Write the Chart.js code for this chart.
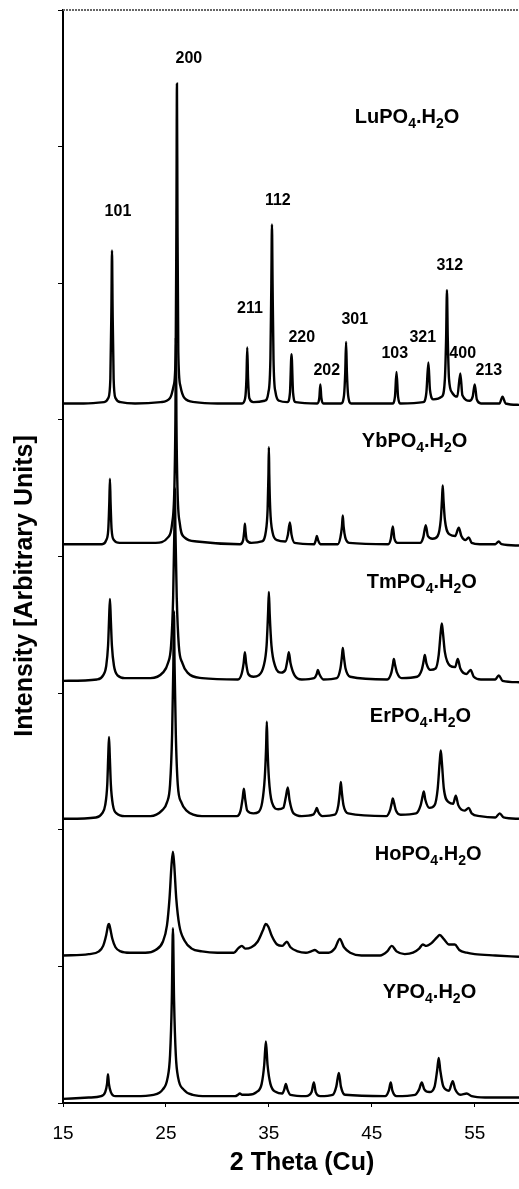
<!DOCTYPE html>
<html lang="en">
  <head>
    <meta charset="UTF-8" />
    <title>XRD patterns of REPO4.H2O</title>
    <script src="https://cdn.jsdelivr.net/npm/chart.js"></script>
    <style>
      body { margin: 0; background: #fff; }
      #wrap { width: 519px; height: 1189px; position: relative; }
    </style>
  </head>
  <body>
    <div id="wrap"><canvas id="xrdChart"></canvas></div>
    <script>
      // axis ticks
      const xTicks = [15, 25, 35, 45, 55];
      const yTicks = [0, 1, 2, 3, 4, 5, 6, 7, 8];

      // sample names, top to bottom, and where each name sits (2 theta, stacked intensity)
      const seriesNames = ["LuPO₄.H₂O", "YbPO₄.H₂O", "TmPO₄.H₂O", "ErPO₄.H₂O", "HoPO₄.H₂O", "YPO₄.H₂O"];
      const nameX = [43.35, 44.03, 44.51, 44.81, 45.29, 46.07];
      const nameY = [7.17, 4.8, 3.77, 2.79, 1.78, 0.77];

      // reflection indices marked on the top pattern
      const hklText = ["101", "200", "211", "112", "220", "202", "301", "103", "321", "312", "400", "213"];
      const hklX = [20.34, 27.23, 33.16, 35.87, 38.2, 40.63, 43.35, 47.23, 49.95, 52.57, 53.83, 56.36];
      const hklY = [6.49, 7.61, 5.78, 6.57, 5.57, 5.33, 5.7, 5.45, 5.57, 6.1, 5.45, 5.33];

      // patterns: [2 theta, intensity incl. stacking offset]
      const lu = [[15,5.12],[17,5.12],[19.0,5.13],[19.4,5.16],[19.6,5.3],[19.7,5.8],[19.76,6.24],[19.82,5.8],[19.92,5.3],[20.1,5.16],[20.6,5.13],[22,5.12],[24.5,5.13],[25.4,5.16],[25.75,5.25],[25.95,5.5],[26.02,6.5],[26.07,7.46],[26.12,6.5],[26.2,5.5],[26.4,5.25],[26.8,5.16],[27.8,5.13],[30,5.12],[32.4,5.12],[32.7,5.16],[32.82,5.3],[32.9,5.53],[32.98,5.3],[33.1,5.16],[33.5,5.13],[34.6,5.14],[34.95,5.2],[35.15,5.45],[35.24,6.0],[35.3,6.43],[35.36,6.0],[35.45,5.45],[35.65,5.2],[36.0,5.14],[36.8,5.13],[37.05,5.2],[37.2,5.48],[37.35,5.2],[37.6,5.13],[39.7,5.12],[39.9,5.16],[40.0,5.26],[40.1,5.16],[40.3,5.12],[42.0,5.12],[42.3,5.18],[42.42,5.35],[42.5,5.57],[42.58,5.35],[42.7,5.18],[43.0,5.12],[47.0,5.12],[47.25,5.17],[47.4,5.35],[47.55,5.17],[47.8,5.12],[50.0,5.13],[50.3,5.2],[50.5,5.42],[50.65,5.22],[51.0,5.15],[51.8,5.17],[52.1,5.3],[52.22,5.6],[52.3,5.95],[52.38,5.6],[52.5,5.3],[52.8,5.2],[53.3,5.17],[53.6,5.34],[53.8,5.18],[54.5,5.14],[54.8,5.17],[55.0,5.26],[55.2,5.15],[55.6,5.12],[57.4,5.12],[57.7,5.17],[58.0,5.12],[59.3,5.11]];
      const yb = [[15,4.09],[18.8,4.09],[19.2,4.12],[19.4,4.2],[19.5,4.4],[19.56,4.57],[19.62,4.4],[19.72,4.2],[19.95,4.12],[20.5,4.1],[24.0,4.1],[25.2,4.14],[25.6,4.24],[25.82,4.5],[25.92,5.0],[25.97,5.6],[26.02,5.0],[26.12,4.5],[26.35,4.24],[26.8,4.14],[28,4.11],[32.2,4.09],[32.5,4.12],[32.6,4.18],[32.67,4.24],[32.74,4.18],[32.85,4.12],[33.3,4.1],[34.3,4.11],[34.7,4.18],[34.88,4.35],[34.96,4.6],[35.0,4.8],[35.04,4.6],[35.13,4.35],[35.35,4.18],[35.8,4.12],[36.6,4.11],[36.85,4.16],[37.04,4.25],[37.2,4.16],[37.5,4.1],[39.4,4.09],[39.56,4.12],[39.66,4.15],[39.78,4.12],[40.0,4.09],[41.7,4.09],[41.95,4.14],[42.1,4.22],[42.18,4.3],[42.26,4.22],[42.42,4.14],[42.8,4.1],[46.6,4.09],[46.85,4.13],[47.04,4.22],[47.2,4.13],[47.5,4.1],[49.7,4.1],[50.0,4.14],[50.24,4.23],[50.45,4.15],[50.9,4.13],[51.4,4.15],[51.7,4.27],[51.82,4.42],[51.89,4.52],[51.96,4.42],[52.1,4.27],[52.6,4.16],[53.1,4.15],[53.45,4.21],[53.7,4.15],[54.1,4.12],[54.42,4.14],[54.7,4.1],[55.5,4.09],[57.0,4.09],[57.33,4.11],[57.6,4.09],[59.3,4.08]];
      const tm = [[15,3.09],[18.3,3.1],[18.9,3.13],[19.2,3.2],[19.38,3.35],[19.48,3.55],[19.56,3.69],[19.64,3.55],[19.75,3.35],[19.95,3.2],[20.3,3.13],[21.0,3.11],[23.5,3.11],[24.7,3.15],[25.2,3.22],[25.5,3.35],[25.7,3.7],[25.82,4.2],[25.87,4.5],[25.92,4.2],[26.05,3.7],[26.25,3.35],[26.6,3.22],[27.1,3.15],[28.5,3.11],[32.0,3.1],[32.35,3.14],[32.55,3.22],[32.67,3.3],[32.79,3.22],[33.0,3.14],[33.5,3.12],[34.0,3.13],[34.5,3.2],[34.78,3.35],[34.92,3.58],[35.0,3.74],[35.08,3.58],[35.25,3.35],[35.6,3.2],[36.2,3.15],[36.6,3.17],[36.8,3.24],[36.94,3.3],[37.1,3.22],[37.5,3.13],[38.2,3.1],[39.4,3.11],[39.65,3.14],[39.76,3.17],[39.9,3.14],[40.3,3.1],[41.6,3.11],[41.95,3.18],[42.1,3.27],[42.18,3.33],[42.28,3.27],[42.45,3.18],[42.9,3.12],[46.5,3.1],[46.9,3.15],[47.05,3.21],[47.14,3.25],[47.25,3.21],[47.45,3.15],[47.9,3.11],[49.4,3.12],[49.85,3.17],[50.05,3.24],[50.15,3.28],[50.3,3.22],[50.7,3.17],[51.2,3.18],[51.5,3.28],[51.7,3.45],[51.8,3.51],[51.9,3.45],[52.1,3.3],[52.6,3.2],[53.1,3.19],[53.35,3.25],[53.6,3.18],[54.2,3.14],[54.6,3.17],[54.9,3.12],[55.6,3.1],[57.0,3.1],[57.33,3.13],[57.7,3.09],[59.3,3.08]];
      const er = [[15,2.08],[18.2,2.09],[18.8,2.12],[19.1,2.18],[19.3,2.33],[19.4,2.55],[19.47,2.68],[19.54,2.55],[19.65,2.33],[19.85,2.18],[20.2,2.12],[21,2.1],[23.5,2.1],[24.6,2.14],[25.1,2.2],[25.4,2.33],[25.6,2.7],[25.72,3.2],[25.78,3.6],[25.84,3.2],[25.96,2.7],[26.15,2.33],[26.5,2.2],[27.0,2.14],[28.5,2.1],[31.9,2.1],[32.25,2.14],[32.45,2.23],[32.57,2.3],[32.69,2.23],[32.9,2.14],[33.5,2.12],[34.0,2.13],[34.35,2.2],[34.6,2.38],[34.73,2.6],[34.8,2.79],[34.87,2.6],[35.0,2.38],[35.3,2.2],[35.9,2.15],[36.4,2.16],[36.65,2.24],[36.84,2.31],[37.0,2.22],[37.4,2.12],[38.2,2.1],[39.3,2.11],[39.55,2.14],[39.66,2.16],[39.8,2.13],[40.2,2.1],[41.4,2.11],[41.75,2.18],[41.9,2.28],[41.99,2.35],[42.08,2.28],[42.25,2.18],[42.7,2.12],[46.4,2.1],[46.8,2.15],[46.95,2.2],[47.04,2.23],[47.15,2.2],[47.35,2.14],[47.8,2.11],[49.3,2.12],[49.75,2.18],[49.95,2.25],[50.05,2.28],[50.2,2.22],[50.6,2.16],[51.1,2.18],[51.4,2.3],[51.6,2.5],[51.7,2.58],[51.8,2.5],[52.0,2.3],[52.5,2.2],[52.9,2.19],[53.16,2.25],[53.4,2.18],[54.0,2.14],[54.42,2.16],[54.7,2.12],[55.5,2.1],[57.0,2.09],[57.43,2.12],[57.8,2.09],[59.3,2.08]];
      const ho = [[15,1.08],[17.5,1.09],[18.5,1.11],[18.9,1.15],[19.2,1.23],[19.38,1.3],[19.47,1.31],[19.58,1.28],[19.8,1.2],[20.1,1.14],[20.6,1.11],[21.5,1.1],[23.0,1.1],[24.0,1.12],[24.7,1.18],[25.1,1.3],[25.35,1.5],[25.55,1.75],[25.68,1.84],[25.8,1.75],[26.0,1.5],[26.3,1.3],[26.8,1.19],[27.5,1.13],[28.5,1.11],[30,1.1],[31.6,1.1],[32.0,1.13],[32.38,1.15],[32.7,1.13],[33.3,1.14],[33.9,1.18],[34.4,1.26],[34.7,1.31],[34.95,1.29],[35.3,1.22],[35.8,1.16],[36.3,1.15],[36.75,1.18],[37.1,1.14],[37.8,1.11],[38.6,1.1],[39.1,1.11],[39.47,1.12],[39.9,1.1],[40.8,1.1],[41.4,1.13],[41.89,1.2],[42.3,1.14],[42.9,1.1],[44,1.08],[45.8,1.08],[46.5,1.11],[46.94,1.15],[47.4,1.11],[48.2,1.09],[49.0,1.1],[49.6,1.13],[49.95,1.16],[50.3,1.15],[50.8,1.17],[51.3,1.21],[51.6,1.23],[52.0,1.2],[52.5,1.16],[53.06,1.16],[53.5,1.12],[54.22,1.1],[55.0,1.09],[57,1.08],[59.3,1.07]];
      const yp = [[15,0.03],[17.5,0.04],[18.7,0.05],[19.1,0.08],[19.28,0.14],[19.37,0.21],[19.46,0.14],[19.65,0.08],[20.1,0.05],[22,0.05],[23.8,0.06],[24.7,0.1],[25.15,0.18],[25.4,0.35],[25.57,0.75],[25.68,1.28],[25.79,0.75],[25.96,0.35],[26.2,0.18],[26.7,0.1],[27.6,0.06],[29,0.05],[31.7,0.05],[32.0,0.06],[32.18,0.07],[32.4,0.06],[33.0,0.06],[33.8,0.08],[34.3,0.14],[34.55,0.28],[34.71,0.45],[34.87,0.28],[35.15,0.14],[35.7,0.08],[36.3,0.07],[36.5,0.1],[36.65,0.14],[36.8,0.1],[37.1,0.06],[38.6,0.05],[39.15,0.08],[39.37,0.15],[39.55,0.08],[40.0,0.05],[41.2,0.06],[41.55,0.12],[41.8,0.22],[42.0,0.12],[42.4,0.06],[46.3,0.05],[46.65,0.09],[46.84,0.15],[47.0,0.09],[47.4,0.05],[49.2,0.06],[49.6,0.1],[49.85,0.15],[50.1,0.1],[50.6,0.08],[51.1,0.12],[51.35,0.24],[51.5,0.33],[51.65,0.24],[51.95,0.12],[52.5,0.09],[52.86,0.16],[53.1,0.1],[53.6,0.06],[54.22,0.07],[54.7,0.05],[56,0.04],[59.3,0.04]];

      const patterns = [lu, yb, tm, er, ho, yp];
      const FONT = '"Liberation Sans", Arial, Helvetica, sans-serif';
      const SUBS = { "₀": "0", "₁": "1", "₂": "2", "₃": "3", "₄": "4", "₅": "5" };

      // write a formula with its subscript digits set small and lowered
      function drawFormula(ctx, text, x, y) {
        let cx = x;
        for (const ch of text) {
          const sub = SUBS[ch];
          ctx.font = sub ? `bold 14px ${FONT}` : `bold 20px ${FONT}`;
          const t = sub || ch;
          ctx.fillText(t, cx, sub ? y + 5 : y);
          cx += ctx.measureText(t).width;
        }
      }

      const textPlugin = {
        id: "figureText",
        afterDraw(chart) {
          const { ctx, chartArea, scales } = chart;
          const xs = scales.x, ys = scales.y;
          ctx.save();

          // dotted frame line along the top
          ctx.strokeStyle = "#666";
          ctx.lineWidth = 2;
          ctx.setLineDash([2, 1]);
          ctx.beginPath();
          ctx.moveTo(chartArea.left, chartArea.top);
          ctx.lineTo(chartArea.right, chartArea.top);
          ctx.stroke();
          ctx.setLineDash([]);

          ctx.fillStyle = "#000";
          ctx.textBaseline = "alphabetic";

          // hkl labels
          ctx.textAlign = "center";
          ctx.font = `bold 16px ${FONT}`;
          hklText.forEach((t, i) => {
            ctx.fillText(t, xs.getPixelForValue(hklX[i]), ys.getPixelForValue(hklY[i]));
          });

          // sample names
          ctx.textAlign = "left";
          seriesNames.forEach((n, i) => {
            drawFormula(ctx, n, xs.getPixelForValue(nameX[i]), ys.getPixelForValue(nameY[i]));
          });

          // axis titles
          ctx.textAlign = "center";
          ctx.textBaseline = "middle";
          ctx.font = `bold 25px ${FONT}`;
          ctx.fillText("2 Theta (Cu)", 302, 1163);
          ctx.translate(25, 586);
          ctx.rotate(-Math.PI / 2);
          ctx.fillText("Intensity [Arbitrary Units]", 0, 0);
          ctx.restore();
        },
      };

      new Chart(document.getElementById("xrdChart"), {
        type: "line",
        data: {
          datasets: patterns.map((p, i) => ({
            label: seriesNames[i],
            data: p.map(([x, y]) => ({ x, y })),
            borderColor: "#000",
            borderWidth: 2.4,
            pointRadius: 0,
            fill: false,
            cubicInterpolationMode: "monotone",
          })),
        },
        options: {
          responsive: true,
          maintainAspectRatio: false,
          animation: false,
          devicePixelRatio: 1,
          layout: { padding: { top: 10, right: 0, bottom: 0, left: 0 } },
          plugins: { legend: { display: false }, tooltip: { enabled: false } },
          scales: {
            x: {
              type: "linear",
              min: 15,
              max: 59.3,
              afterBuildTicks: (s) => { s.ticks = xTicks.map((v) => ({ value: v })); },
              afterFit: (s) => { s.height = 86; },
              ticks: { color: "#000", font: { family: FONT, size: 19 }, padding: 15, maxRotation: 0, autoSkip: false },
              grid: { drawOnChartArea: false, color: "#000", tickLength: 4, lineWidth: 1 },
              border: { color: "#000", width: 2 },
            },
            y: {
              min: 0,
              max: 8,
              afterBuildTicks: (s) => { s.ticks = yTicks.map((v) => ({ value: v })); },
              afterFit: (s) => { s.width = 63; },
              ticks: { display: false },
              grid: { drawOnChartArea: false, color: "#000", tickLength: 5, lineWidth: 1 },
              border: { color: "#000", width: 2 },
            },
          },
        },
        plugins: [textPlugin],
      });
    </script>
  </body>
</html>
